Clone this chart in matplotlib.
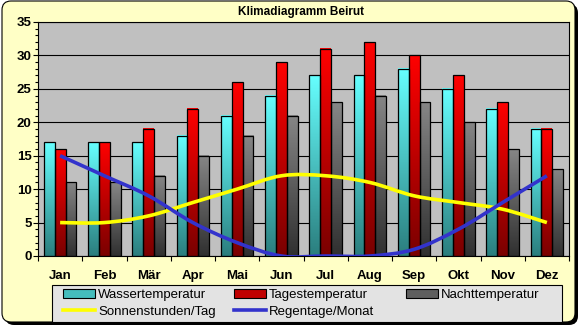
import numpy as np
import matplotlib
matplotlib.use("Agg")
import matplotlib.pyplot as plt
from matplotlib.colors import LinearSegmentedColormap
from matplotlib.lines import Line2D
from matplotlib.patches import FancyBboxPatch, PathPatch, Patch, Rectangle
from matplotlib.path import Path
from matplotlib.transforms import IdentityTransform

plt.rcParams['font.family'] = ['Liberation Sans', 'DejaVu Sans']

# Daten
months = ["Jan", "Feb", "Mär", "Apr", "Mai", "Jun", "Jul", "Aug", "Sep", "Okt", "Nov", "Dez"]
wasser = [17, 17, 17, 18, 21, 24, 27, 27, 28, 25, 22, 19]
tages = [16, 17, 19, 22, 26, 29, 31, 32, 30, 27, 23, 19]
nacht = [11, 11, 12, 15, 18, 21, 23, 24, 23, 20, 16, 13]
sonne = [5, 5, 6, 8, 10, 12, 12, 11, 9, 8, 7, 5]
regen = [15, 12, 9, 5, 2, 0, 0, 0, 1, 4, 8, 12]

W, H = 583, 329
fig = plt.figure(figsize=(W / 100, H / 100), dpi=100, facecolor="white")

# Rahmen mit Schatten (Pixelkoordinaten)
shadow = FancyBboxPatch((5, 329 - 325), 573, 321, boxstyle="round,pad=0,rounding_size=9",
                        transform=IdentityTransform(), facecolor="black", edgecolor="black",
                        lw=0, zorder=-3)
frame = FancyBboxPatch((2, 329 - 322), 573, 321, boxstyle="round,pad=0,rounding_size=9",
                       transform=IdentityTransform(), facecolor="#FFFFC6", edgecolor="black",
                       lw=0.8, zorder=-2)
fig.add_artist(shadow)
fig.add_artist(frame)

ax = fig.add_axes([38 / W, 1 - 256 / H, (569 - 38) / W, (256 - 22) / H])
ax.set_facecolor("#C0C0C0")

x = np.arange(len(months))
bw = 0.245


def grad_bars(xpos, vals, top, bottom):
    cmap = LinearSegmentedColormap.from_list("g", [bottom, top])
    grad = np.linspace(0, 1, 128).reshape(-1, 1)
    bars = ax.bar(xpos, vals, bw, facecolor="none", edgecolor="black", lw=0.9, zorder=3)
    for b in bars:
        x0, y0 = b.get_xy()
        ax.imshow(grad, extent=(x0, x0 + b.get_width(), y0, y0 + b.get_height()),
                  origin="lower", aspect="auto", cmap=cmap, zorder=2.5, interpolation="bilinear")
    return bars


grad_bars(x - bw, wasser, "#66FFFF", "#2B7E7E")
grad_bars(x, tages, "#FF0000", "#7A0000")
grad_bars(x + bw, nacht, "#868686", "#303030")


# geglättete Linie wie in Excel (Bezier durch die Punkte)
def smooth_path(xs, ys):
    pts = np.column_stack([xs, ys]).astype(float)
    ext = np.vstack([pts[0], pts, pts[-1]])
    verts = [pts[0]]
    codes = [Path.MOVETO]
    for i in range(len(pts) - 1):
        p0, p1, p2, p3 = ext[i], ext[i + 1], ext[i + 2], ext[i + 3]
        verts += [p1 + (p2 - p0) / 6, p2 - (p3 - p1) / 6, p2]
        codes += [Path.CURVE4] * 3
    return Path(verts, codes)


yellow = "#FFFF00"
blue = "#3333CC"
ax.add_patch(PathPatch(smooth_path(x, sonne), fill=False, edgecolor=yellow, lw=2.6, zorder=4,
                       capstyle="butt"))
ax.add_patch(PathPatch(smooth_path(x, regen), fill=False, edgecolor=blue, lw=2.6, zorder=5,
                       capstyle="butt"))

ax.set_xlim(-0.5, 11.5)
ax.set_ylim(0, 35)

# Achsen
ax.set_xticks(np.arange(-0.5, 12, 1))
ax.set_xticklabels([])
ax.set_xticks(x, minor=True)
ax.set_xticklabels(months, minor=True, fontsize=9.5, fontweight="bold")
ax.tick_params(axis="x", which="major", direction="out", length=3.6, width=0.8)
ax.tick_params(axis="x", which="minor", length=0, pad=10)

ax.set_yticks(np.arange(0, 36, 5))
ax.set_yticks(np.arange(0, 36, 1), minor=True)
ax.set_yticklabels([str(v) for v in range(0, 36, 5)], fontsize=9.5, fontweight="bold")
ax.tick_params(axis="y", which="major", direction="out", length=3.6, width=0.8, pad=1)
ax.tick_params(axis="y", which="minor", direction="out", length=2.2, width=0.8)

ax.grid(axis="y", which="major", color="black", lw=0.8)
ax.set_axisbelow(True)
for s in ax.spines.values():
    s.set_color("black")
    s.set_linewidth(0.8)

fig.text(301.5 / W, 1 - 12 / H, "Klimadiagramm Beirut", ha="center", va="center",
         fontsize=8.5, fontweight="bold")

# Legende
fig.add_artist(Rectangle((52, 329 - 322), 510, 37, transform=IdentityTransform(),
                         facecolor="#E3E3E3", edgecolor="black", lw=0.8, zorder=1))

h_wasser = Patch(facecolor="#45BDBD", edgecolor="black", lw=0.8)
h_tages = Patch(facecolor="#C00000", edgecolor="black", lw=0.8)
h_nacht = Patch(facecolor="#5E5E5E", edgecolor="black", lw=0.8)
h_sonne = Line2D([], [], color=yellow, lw=2.6)
h_regen = Line2D([], [], color=blue, lw=2.6)

columns = [
    ([h_wasser, h_sonne], ["Wassertemperatur", "Sonnenstunden/Tag"], 63),
    ([h_tages, h_regen], ["Tagestemperatur", "Regentage/Monat"], 234),
    ([h_nacht], ["Nachttemperatur"], 406),
]
for handles, labels, xpx in columns:
    leg = fig.legend(handles, labels, loc="upper left",
                     bbox_to_anchor=(xpx / W, 1 - 289 / H), frameon=False,
                     fontsize=9.5, borderpad=0, borderaxespad=0, handlelength=2.4,
                     handletextpad=0.25, labelspacing=0.35)

fig.savefig("out.png", dpi=100, facecolor="white")
